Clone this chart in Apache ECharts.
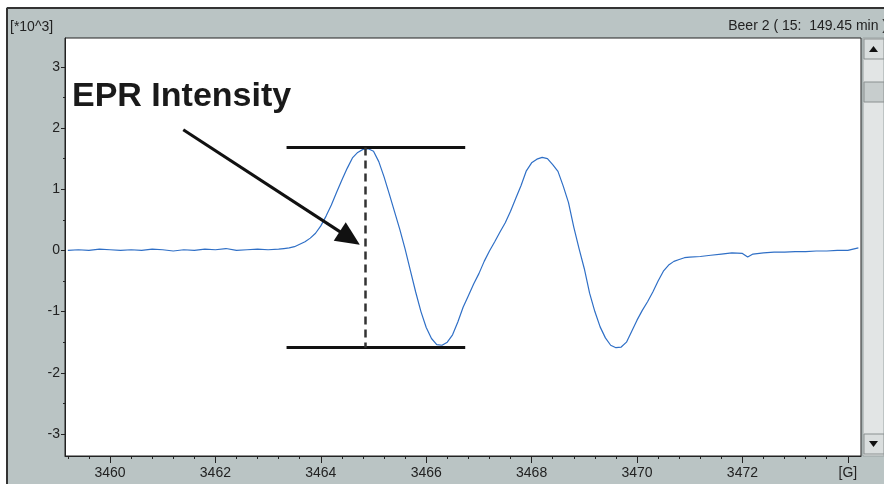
<!DOCTYPE html>
<html><head><meta charset="utf-8">
<script src="https://cdn.jsdelivr.net/npm/echarts@6/dist/echarts.min.js"></script>
<style>html,body{margin:0;padding:0;background:#fff}#c{width:884px;height:484px}</style>
</head><body><div id="c"></div><script>
// ---- data (magnetic field in G, intensity in 10^3 units) ----
const fieldG = [
  3459.2,3459.4,3459.6,3459.8,3460.0,3460.2,3460.4,3460.6,3460.8,3461.0,
  3461.2,3461.4,3461.6,3461.8,3462.0,3462.2,3462.4,3462.6,3462.8,3463.0,3463.2,
  3463.3,3463.4,3463.5,3463.6,3463.7,3463.8,3463.9,3464.0,3464.1,3464.2,
  3464.3,3464.4,3464.5,3464.6,3464.7,3464.8,3464.9,3465.0,3465.1,3465.2,
  3465.3,3465.4,3465.5,3465.6,3465.7,3465.8,3465.9,3466.0,3466.1,3466.2,
  3466.3,3466.4,3466.5,3466.6,3466.7,3466.8,3466.9,3467.0,3467.1,3467.2,
  3467.3,3467.4,3467.5,3467.6,3467.7,3467.8,3467.9,3468.0,3468.1,3468.2,
  3468.3,3468.4,3468.5,3468.6,3468.7,3468.8,3468.9,3469.0,3469.1,3469.2,
  3469.3,3469.4,3469.5,3469.6,3469.7,3469.8,3469.9,3470.0,3470.1,3470.2,
  3470.3,3470.4,3470.5,3470.6,3470.7,3470.8,3470.9,3471.0,
  3471.2,3471.4,3471.6,3471.8,3472.0,3472.1,3472.2,3472.4,3472.6,3472.8,
  3473.0,3473.2,3473.4,3473.6,3473.8,3474.0,3474.2
];
const intensity = [
  0.00,0.01,0.00,0.02,0.01,0.00,0.01,0.00,0.02,0.01,
  -0.01,0.01,0.00,0.02,0.01,0.03,0.00,0.01,0.02,0.01,0.02,
  0.03,0.04,0.06,0.10,0.14,0.20,0.28,0.40,0.56,0.74,
  0.95,1.15,1.34,1.51,1.60,1.65,1.66,1.62,1.45,1.20,
  0.92,0.63,0.34,0.02,-0.33,-0.68,-1.00,-1.26,-1.44,-1.54,
  -1.55,-1.50,-1.38,-1.17,-0.93,-0.74,-0.55,-0.38,-0.18,-0.01,
  0.14,0.30,0.45,0.64,0.85,1.06,1.30,1.43,1.49,1.52,
  1.50,1.40,1.29,1.05,0.78,0.38,0.03,-0.30,-0.70,-1.00,
  -1.25,-1.43,-1.55,-1.59,-1.58,-1.50,-1.32,-1.14,-0.98,-0.84,
  -0.68,-0.50,-0.34,-0.24,-0.18,-0.15,-0.12,-0.11,
  -0.10,-0.08,-0.06,-0.04,-0.05,-0.11,-0.06,-0.04,-0.03,-0.03,
  -0.02,-0.02,-0.01,-0.01,0.00,0.00,0.04
];
const xMajorTicks = [3460,3462,3464,3466,3468,3470,3472,3474];
const xMinorTicks = [3459.2,3459.6,3460.4,3460.8,3461.2,3461.6,3462.4,3462.8,3463.2,3463.6,
  3464.4,3464.8,3465.2,3465.6,3466.4,3466.8,3467.2,3467.6,3468.4,3468.8,3469.2,3469.6,
  3470.4,3470.8,3471.2,3471.6,3472.4,3472.8,3473.2,3473.6];
const yMajorTicks = [-3,-2,-1,0,1,2,3];
const yMinorTicks = [-2.5,-1.5,-0.5,0.5,1.5,2.5];
const xUnitLabel = '[G]';
const yScaleLabel = '[*10^3]';
const headerText = 'Beer 2 ( 15:  149.45 min )';
const annotationText = 'EPR Intensity';
// annotation anchors in data units
const peakLevel = 1.68, troughLevel = -1.59;
const barFrom = 3463.35, barTo = 3466.74, dashAt = 3464.84;
const arrowFrom = [3461.39, 1.97], arrowTo = [3464.55, 0.20];

const xMin = 3459.146, xMax = 3474.25, yMin = -3.36, yMax = 3.47;
const FONT = '"Liberation Sans", Arial, sans-serif';
const gray = '#bac4c4';

const chart = echarts.init(document.getElementById('c'), null, {renderer:'canvas'});
const pts = fieldG.map((x,i)=>[x,intensity[i]]);

const option = {
  backgroundColor: gray,
  animation: false,
  grid: {left:65, right:23, top:38, bottom:28, show:true, backgroundColor:'#fff', borderColor:'#222', borderWidth:1},
  xAxis: [{
    type:'value', min:xMin, max:xMax, position:'bottom',
    axisLine:{show:true, onZero:false, lineStyle:{color:'#222', width:1}},
    axisTick:{show:true, customValues:xMajorTicks, length:7, lineStyle:{color:'#222'}},
    axisLabel:{customValues:xMajorTicks, margin:10, color:'#222', fontFamily:FONT, fontSize:14,
      formatter:v => (Math.abs(v-3474)<1e-6 ? xUnitLabel : String(v))},
    splitLine:{show:false}
  },{
    type:'value', min:xMin, max:xMax, position:'bottom', offset:0,
    axisLine:{show:false, onZero:false},
    axisTick:{show:true, customValues:xMinorTicks, length:3, lineStyle:{color:'#222'}},
    axisLabel:{show:false}, splitLine:{show:false}
  }],
  yAxis: [{
    type:'value', min:yMin, max:yMax, position:'left',
    axisLine:{show:true, onZero:false, lineStyle:{color:'#222', width:1}},
    axisTick:{show:true, customValues:yMajorTicks, length:4, lineStyle:{color:'#222'}},
    axisLabel:{customValues:yMajorTicks, margin:5, color:'#222', fontFamily:FONT, fontSize:14},
    splitLine:{show:false}
  },{
    type:'value', min:yMin, max:yMax, position:'left', offset:0,
    axisLine:{show:false, onZero:false},
    axisTick:{show:true, customValues:yMinorTicks, length:2, lineStyle:{color:'#222'}},
    axisLabel:{show:false}, splitLine:{show:false}
  }],
  series: [{
    type:'line', data:pts, showSymbol:false, smooth:false,
    lineStyle:{color:'#2f6fc6', width:1.2},
    markLine:{
      silent:true, animation:false, symbol:['none','none'],
      label:{show:false},
      data:[
        [{coord:[barFrom,peakLevel], lineStyle:{color:'#111', width:3, type:'solid'}},{coord:[barTo,peakLevel]}],
        [{coord:[barFrom,troughLevel], lineStyle:{color:'#111', width:3, type:'solid'}},{coord:[barTo,troughLevel]}],
        [{coord:[dashAt,peakLevel], lineStyle:{color:'#333', width:2.5, type:[8,5]}},{coord:[dashAt,troughLevel]}],
        [{coord:arrowFrom, symbol:'none', lineStyle:{color:'#111', width:3, type:'solid'}},
         {coord:arrowTo, symbol:'path://M0,0 L10,22 L-10,22 Z', symbolSize:[22,24]}]
      ]
    }
  }],
  graphic: [
    {type:'rect', shape:{x:0,y:0,width:884,height:7}, style:{fill:'#fff'}, silent:true},
    {type:'rect', shape:{x:0,y:0,width:6,height:484}, style:{fill:'#fff'}, silent:true},
    {type:'line', shape:{x1:7,y1:8,x2:884,y2:8}, style:{stroke:'#333', lineWidth:2}, silent:true},
    {type:'line', shape:{x1:7,y1:8,x2:7,y2:484}, style:{stroke:'#333', lineWidth:2}, silent:true},
    {type:'text', style:{text:yScaleLabel, x:10, y:27, fill:'#222', font:'14px '+FONT, textVerticalAlign:'middle'}, silent:true},
    {type:'text', style:{text:headerText, x:887, y:26, fill:'#222', font:'14px '+FONT, textAlign:'right', textVerticalAlign:'middle'}, silent:true},
    {type:'text', style:{text:annotationText, x:72, y:97, fill:'#1a1a1a', font:'bold 34px '+FONT, textVerticalAlign:'middle'}, silent:true},
    // scrollbar
    {type:'rect', shape:{x:863,y:38,width:21,height:418}, style:{fill:'#e2e5e5', stroke:'#9aa2a2', lineWidth:1}, silent:true},
    {type:'rect', shape:{x:864,y:39,width:20,height:20}, style:{fill:'#dadede', stroke:'#8a9090', lineWidth:1}, silent:true},
    {type:'polygon', shape:{points:[[869,52],[878,52],[873.5,46]]}, style:{fill:'#111'}, silent:true},
    {type:'rect', shape:{x:864,y:82,width:20,height:20}, style:{fill:'#c7cdcd', stroke:'#8a9090', lineWidth:1}, silent:true},
    {type:'rect', shape:{x:864,y:434,width:20,height:20}, style:{fill:'#dadede', stroke:'#8a9090', lineWidth:1}, silent:true},
    {type:'polygon', shape:{points:[[869,441],[878,441],[873.5,447]]}, style:{fill:'#111'}, silent:true}
  ]
};
chart.setOption(option);
</script></body></html>
